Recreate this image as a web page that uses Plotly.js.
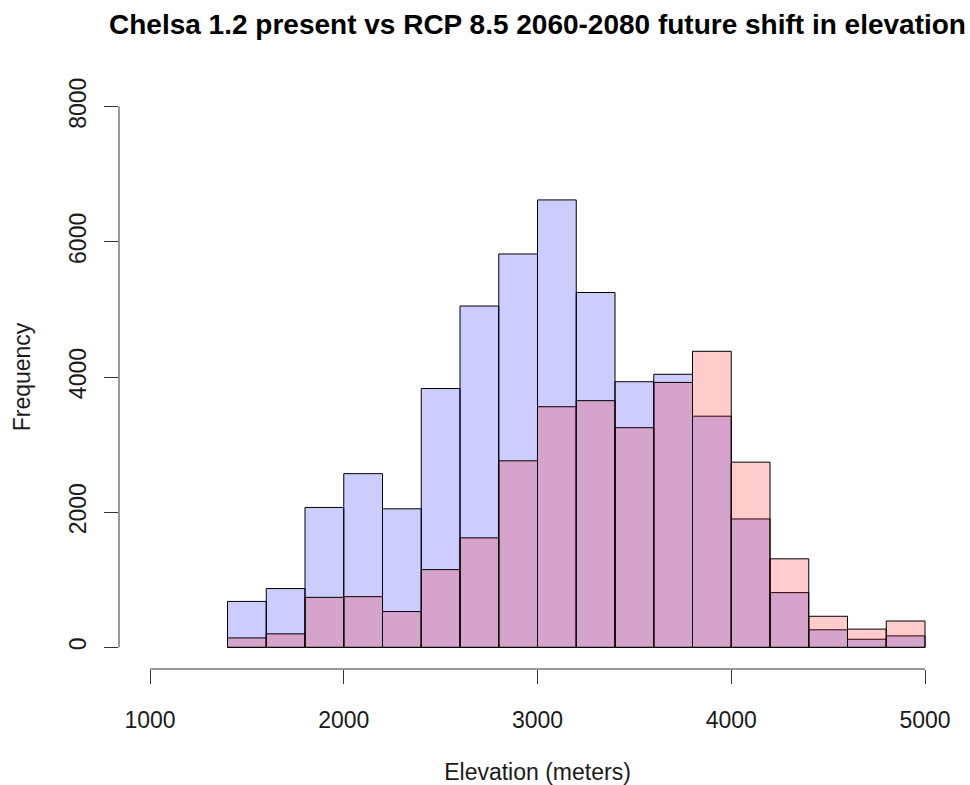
<!DOCTYPE html>
<html>
<head>
<meta charset="utf-8">
<script src="https://cdn.plot.ly/plotly-3.0.1.min.js"></script>
<style>
  html, body { margin: 0; padding: 0; background: #ffffff; }
  #chart { width: 970px; height: 785px; }
</style>
</head>
<body>
<div id="chart"></div>
<script>
// Elevation histogram bins (left edges, metres), 200 m wide
const binStarts = [1400, 1600, 1800, 2000, 2200, 2400, 2600, 2800, 3000,
                   3200, 3400, 3600, 3800, 4000, 4200, 4400, 4600, 4800];
const binWidth = 200;

// Counts per bin: Chelsa 1.2 present climate
const presentCounts = [680, 870, 2070, 2570, 2050, 3830, 5050, 5820, 6620,
                       5250, 3930, 4040, 3420, 1900, 810, 260, 120, 170];

// Counts per bin: RCP 8.5, 2060-2080
const futureCounts = [140, 200, 740, 750, 530, 1150, 1620, 2760, 3560,
                      3650, 3250, 3920, 4380, 2740, 1310, 460, 270, 390];

const xTicks = [1000, 2000, 3000, 4000, 5000];
const yTicks = [0, 2000, 4000, 6000, 8000];

const titleText = 'Chelsa 1.2 present vs RCP 8.5 2060-2080 future shift in elevation';
const xLabel = 'Elevation (meters)';
const yLabel = 'Frequency';

const FONT = '"Liberation Sans", Arial, Helvetica, sans-serif';

function histTrace(counts, fill, name) {
  return {
    type: 'bar',
    name: name,
    x: binStarts,
    y: counts,
    width: binWidth,
    offset: 0,
    marker: { color: fill, line: { color: '#000000', width: 1 } },
    hoverinfo: 'x+y'
  };
}

const data = [
  histTrace(presentCounts, 'rgba(0,0,255,0.2)', 'present'),
  histTrace(futureCounts, 'rgba(255,0,0,0.2)', 'RCP 8.5 2060-2080')
];

const axisColor = '#333333';
const textColor = '#1a1a1a';

const layout = {
  width: 970,
  height: 785,
  paper_bgcolor: '#ffffff',
  plot_bgcolor: '#ffffff',
  showlegend: false,
  barmode: 'overlay',
  bargap: 0,
  margin: { l: 119, r: 14, t: 85, b: 116, pad: 0 },
  font: { family: FONT, size: 23, color: textColor },
  title: {
    text: '<b>' + titleText + '</b>',
    font: { family: FONT, size: 28, color: '#000000' },
    x: 0.5, xref: 'paper', xanchor: 'center',
    y: 1 - 24 / 785, yref: 'container', yanchor: 'middle'
  },
  xaxis: {
    range: [840, 5160],
    tickvals: xTicks,
    ticktext: xTicks.map(String),
    ticks: 'outside', ticklen: 14, tickwidth: 1, tickcolor: axisColor,
    showline: false, showgrid: false, zeroline: false,
    ticklabelstandoff: 16,
    tickfont: { family: FONT, size: 23, color: textColor },
    title: { text: xLabel, font: { family: FONT, size: 23, color: textColor }, standoff: 32 },
    automargin: false,
    fixedrange: true
  },
  yaxis: {
    range: [-320, 8320],
    tickvals: yTicks,
    ticktext: yTicks.map(String),
    tickangle: -90,
    ticks: 'outside', ticklen: 14, tickwidth: 1, tickcolor: axisColor,
    showline: false, showgrid: false, zeroline: false,
    ticklabelstandoff: 9,
    tickfont: { family: FONT, size: 23, color: textColor },
    title: { text: yLabel, font: { family: FONT, size: 23, color: textColor }, standoff: 27 },
    automargin: false,
    fixedrange: true
  },
  shapes: [
    // x axis line spanning the tick range
    { type: 'line', xref: 'x', yref: 'paper', x0: xTicks[0], x1: xTicks[xTicks.length - 1], y0: 0, y1: 0,
      line: { color: axisColor, width: 1 } },
    // y axis line spanning the tick range
    { type: 'line', xref: 'paper', yref: 'y', x0: 0, x1: 0, y0: yTicks[0], y1: yTicks[yTicks.length - 1],
      line: { color: axisColor, width: 1 } }
  ]
};

Plotly.newPlot('chart', data, layout, { displayModeBar: false, staticPlot: true });
</script>
</body>
</html>
